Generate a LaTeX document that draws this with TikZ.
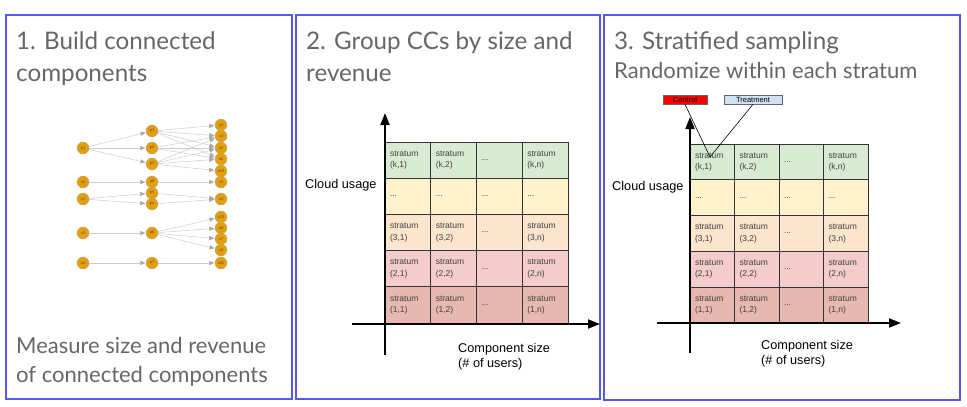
\documentclass[tikz,border=0pt]{standalone}
\usepackage{fontspec}
\setmainfont{Liberation Sans}
\newfontfamily\titlefont{Lato}
\usetikzlibrary{arrows.meta}

\definecolor{titlegray}{HTML}{666666}
\definecolor{panelblue}{HTML}{5858F0}
\definecolor{rowk}{HTML}{D9EAD3}
\definecolor{rowdots}{HTML}{FFF2CC}
\definecolor{rowc}{HTML}{FCE5CD}
\definecolor{rowb}{HTML}{F4CCCC}
\definecolor{rowa}{HTML}{E6B8AF}
\definecolor{ccorange}{HTML}{E69F00}
\definecolor{treatblue}{HTML}{CFE2F3}

\tikzset{
  panel/.style={draw=panelblue, line width=1.3pt},
  title/.style={font=\titlefont\fontsize{24.2}{30}\selectfont, text=titlegray, anchor=base west, inner sep=0pt},
  subtitle/.style={font=\titlefont\fontsize{22}{26}\selectfont, text=titlegray, anchor=base west, inner sep=0pt},
  cc/.style={circle, draw=black!35, fill=ccorange, minimum size=12pt, inner sep=0pt, font=\fontsize{4}{4}\selectfont, text=black!70},
  ccedge/.style={draw=black!20, line width=0.5pt, -{Triangle[length=5pt, width=4pt, color=black!35]}, shorten >=0.5pt},
  cell/.style={draw=black!80, line width=0.7pt, align=left, inner xsep=5pt, inner ysep=0pt, font=\fontsize{8.5}{11.5}\selectfont, text=black!75},
  axis/.style={line width=1.8pt, -{Triangle[length=12pt, width=9pt]}},
  axislabel/.style={font=\fontsize{12.7}{15}\selectfont, align=left, anchor=west, inner sep=0pt},
  arm/.style={draw=black!60, line width=0.6pt, minimum height=9pt, inner sep=0pt, font=\fontsize{7.5}{8}\selectfont},
}

\begin{document}
\begin{tikzpicture}[x=1pt, y=-1pt]
    \useasboundingbox (0,0) rectangle (967,407);

    % the three panels
    \draw[panel] (6,15) rectangle (292,399);
    \draw[panel] (296,15) rectangle (600,399);
    \draw[panel] (604,15) rectangle (960,400);

    \node[title] (t1a) at (16,49) {1. Build connected};
    \node[title] (t1b) at (16,81) {components};
    \node[title] (t2a) at (306,49) {2. Group CCs by size and};
    \node[title] (t2b) at (306,81) {revenue};
    \node[title] (t3a) at (614,49) {3. Stratified sampling};
    \node[subtitle] (t3b) at (614,78) {Randomize within each stratum};
    \node[subtitle] (m1a) at (16,353) {Measure size and revenue};
    \node[subtitle] (m1b) at (16,382) {of connected components};

    % graph of accounts, projects and users
    \def\xa{83}
    \def\xp{152}
    \def\xu{221}

    \node[cc] (a1) at (\xa,148) {a1};
    \node[cc] (a5) at (\xa,182) {a5};
    \node[cc] (a2) at (\xa,199) {a2};
    \node[cc] (a3) at (\xa,233) {a3};
    \node[cc] (a4) at (\xa,263) {a4};

    \node[cc] (p1) at (\xp,131) {p1};
    \node[cc] (p2) at (\xp,148) {p2};
    \node[cc] (p3) at (\xp,164) {p3};
    \node[cc] (p8) at (\xp,182) {p8};
    \node[cc] (p5) at (\xp,193) {p5};
    \node[cc] (p4) at (\xp,204) {p4};
    \node[cc] (p6) at (\xp,233) {p6};
    \node[cc] (p7) at (\xp,263) {p7};

    \node[cc] (u2) at (\xu,125) {u2};
    \node[cc] (u1) at (\xu,136) {u1};
    \node[cc] (u5) at (\xu,148) {u5};
    \node[cc] (u6) at (\xu,159) {u6};
    \node[cc] (u12) at (\xu,171) {u12};
    \node[cc] (u3) at (\xu,182) {u3};
    \node[cc] (u4) at (\xu,199) {u4};
    \node[cc] (u10) at (\xu,217) {u10};
    \node[cc] (u8) at (\xu,228) {u8};
    \node[cc] (u7) at (\xu,239) {u7};
    \node[cc] (u9) at (\xu,250) {u9};
    \node[cc] (u11) at (\xu,263) {u11};

    \foreach \s/\t in {a1/p1, a1/p2, a1/p3, a5/p8, a2/p5, a2/p4, a3/p6, a4/p7,
        p1/u2, p1/u1, p1/u5, p1/u6, p2/u1, p2/u5, p2/u6, p3/u1, p3/u5, p3/u6, p3/u12,
        p8/u3, p5/u4, p4/u4, p6/u10, p6/u8, p6/u7, p6/u9, p7/u11}
      \draw[ccedge] (\s) -- (\t);

    % strata grid, #1 = prefix of the cell names
    \def\stratagrid#1{%
      \foreach \r/\fc/\rl in {1/rowa/1, 2/rowb/2, 3/rowc/3, 5/rowk/k} {
        \foreach \c/\cl in {1/1, 2/2, 4/n}
          \node[cell, fill=\fc] (#1\r\c) at ({(\c-0.5)*\dx}, {-(\r-0.5)*\dy}) {stratum\\(\rl,\cl)};
        \node[cell, fill=\fc] (#1\r3) at ({2.5*\dx}, {-(\r-0.5)*\dy}) {...};
      }
      \foreach \c in {1,...,4}
        \node[cell, fill=rowdots] (#14\c) at ({(\c-0.5)*\dx}, {-3.5*\dy}) {...};
    }

    % panel 2
    \begin{scope}[shift={(385,323)}, cell/.append style={text width=35.75pt, minimum height=36.2pt}]
      \def\dx{45.75}
      \def\dy{36.2}
      \stratagrid{b}
    \end{scope}

    \coordinate (bx0) at (352,324);
    \coordinate (bx1) at (600,324);
    \coordinate (by0) at (385,355);
    \coordinate (by1) at (385,113);
    \draw[axis] (bx0) -- (bx1);
    \draw[axis] (by0) -- (by1);
    \node[axislabel] (bly) at (305,185) {Cloud usage};
    \node[axislabel] (blx) at (458,357) {Component size\\(\# of users)};

    % panel 3
    \begin{scope}[shift={(690,323)}, cell/.append style={text width=34.5pt, minimum height=35.8pt}]
      \def\dx{44.5}
      \def\dy{35.8}
      \stratagrid{c}
    \end{scope}

    \coordinate (cx0) at (657,323);
    \coordinate (cx1) at (901,323);
    \coordinate (cy0) at (690,353);
    \coordinate (cy1) at (690,117);
    \draw[axis] (cx0) -- (cx1);
    \draw[axis] (cy0) -- (cy1);
    \node[axislabel] (cly) at (612,187) {Cloud usage};
    \node[axislabel] (clx) at (761,354) {Component size\\(\# of users)};

    % control and treatment arms
    \node[arm, fill=red, minimum width=44pt] (ctrl) at (685,99.5) {Control};
    \node[arm, fill=treatblue, minimum width=58pt] (treat) at (753,99.5) {Treatment};
    \coordinate (pick) at (710,157);
    \draw[line width=0.6pt] (ctrl.south) -- (pick);
    \draw[line width=0.6pt] (treat.south) -- (pick);

\end{tikzpicture}
\end{document}
